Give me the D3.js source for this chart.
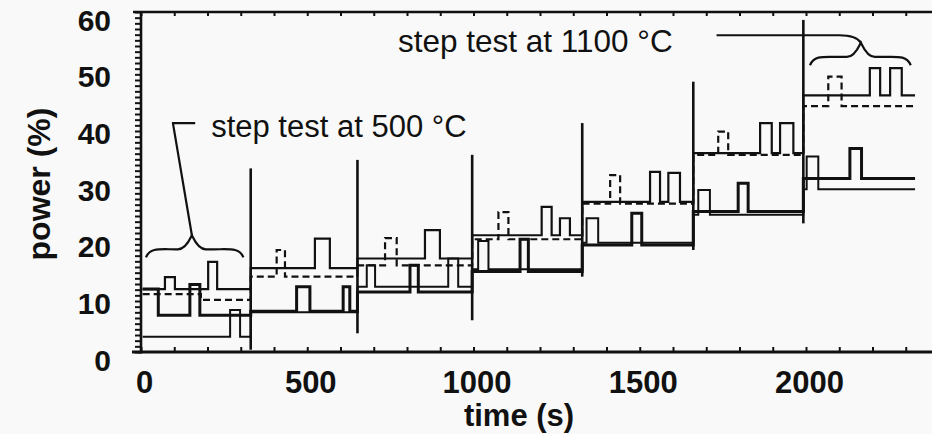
<!DOCTYPE html>
<html>
<head>
<meta charset="utf-8">
<script src="https://cdn.jsdelivr.net/npm/d3@7/dist/d3.min.js"></script>
<style>
  html, body { margin: 0; padding: 0; background: #f8f9f8; }
  svg { display: block; }
  text { font-family: "Liberation Sans", Arial, Helvetica, sans-serif; fill: #111; }
</style>
</head>
<body>
<svg id="chart" width="932" height="434"></svg>
<script>
// Heater power during the temperature ramp with step tests (time in s, power in %)
const upperSolid = [
  [5, 11.1], [72, 13.2], [102, 11.1], [202, 15.9], [229, 11.1],
  [330, 14.8], [523, 20.0], [568, 14.8],
  [651, 16.5], [854, 21.5], [899, 16.5],
  [996, 20.6], [1205, 25.6], [1235, 20.6], [1260, 23.6], [1290, 20.6],
  [1327, 26.5], [1531, 31.8], [1561, 26.5], [1586, 31.6], [1621, 26.5],
  [1661, 35.1], [1862, 40.4], [1897, 35.1], [1922, 40.4], [1962, 35.1],
  [1992, 45.3], [2192, 50.1], [2223, 45.3], [2253, 50.1], [2288, 45.3], [2328, 45.3]
];
const upperDashed = [
  [5, 10.2], [180, 9.2],
  [330, 13.3], [408, 18.0], [433, 13.3],
  [651, 15.3], [734, 20.1], [769, 15.3],
  [996, 19.9], [1075, 24.7], [1105, 19.9],
  [1327, 26.2], [1411, 31.2], [1441, 26.2],
  [1661, 34.8], [1736, 38.9], [1766, 34.8],
  [1992, 43.4], [2067, 48.6], [2107, 43.4], [2328, 43.4]
];
const lowerThick = [
  [5, 11.1], [52, 6.5], [147, 11.9], [177, 6.5],
  [330, 7.2], [468, 11.5], [508, 7.2], [608, 11.5], [628, 7.2],
  [651, 10.6], [809, 15.3], [834, 10.6],
  [996, 14.2], [1140, 19.9], [1165, 14.2],
  [1327, 18.9], [1476, 24.5], [1506, 18.9],
  [1661, 24.8], [1796, 29.8], [1826, 24.8],
  [1992, 30.6], [2132, 35.9], [2167, 30.6], [2328, 30.6]
];
const lowerThin = [
  [5, 2.7], [268, 7.4], [298, 2.7],
  [330, 7.0],
  [651, 11.5], [679, 15.3], [704, 11.5], [924, 16.5], [954, 11.5],
  [996, 14.6], [1014, 19.6], [1045, 14.6],
  [1327, 19.3], [1340, 23.6], [1375, 19.3],
  [1661, 24.2], [1676, 28.6], [1711, 24.2],
  [1992, 28.7], [2002, 34.5], [2037, 28.7], [2328, 28.7]
];

// Set-point changes and the transient spike they cause
const stepTimes  = [330, 651, 996, 1327, 1661, 1992];
const spikeTop   = [32.4, 33.9, 34.8, 40.4, 47.7, 58.6];
const spikeBottom = [0.4, 3.3, 5.6, 13.3, 18.0, 22.7];

const yTickValues = [0, 10, 20, 30, 40, 50, 60];
const xTickValues = [0, 500, 1000, 1500, 2000];

const svg = d3.select("#chart");
const x = d3.scaleLinear().domain([0, 2400]).range([141, 939]);
const y = d3.scaleLinear().domain([0, 60]).range([352, 12]);
const ink = "#111";

// frame
svg.append("line").attr("x1", 141).attr("x2", 141).attr("y1", 11).attr("y2", 353.5)
  .attr("stroke", ink).attr("stroke-width", 2.6);
svg.append("line").attr("x1", 133).attr("x2", 932).attr("y1", y(60)).attr("y2", y(60))
  .attr("stroke", ink).attr("stroke-width", 2.6);
svg.append("line").attr("x1", 132).attr("x2", 932).attr("y1", y(0)).attr("y2", y(0))
  .attr("stroke", ink).attr("stroke-width", 2.8);

// minor ticks
function cleanTicks(g, w) {
  g.select(".domain").remove();
  g.selectAll(".tick line").attr("stroke", ink).attr("stroke-width", w);
  g.selectAll(".tick text").remove();
}
svg.append("g").attr("transform", "translate(141,0)")
  .call(d3.axisLeft(y).tickValues(d3.range(0, 61, 1)).tickSize(6))
  .call(g => cleanTicks(g, 2));
svg.append("g").attr("transform", `translate(0,${y(0)})`)
  .call(d3.axisTop(x).tickValues(d3.range(0, 2301, 100)).tickSize(5))
  .call(g => cleanTicks(g, 2));
svg.append("g").attr("transform", `translate(0,${y(60)})`)
  .call(d3.axisBottom(x).tickValues(d3.range(0, 2301, 100)).tickSize(4))
  .call(g => cleanTicks(g, 2));

// tick labels
const yLab = svg.append("g").attr("transform", "translate(111,0)")
  .call(d3.axisLeft(y).tickValues(yTickValues).tickFormat(d3.format("d")).tickSize(0).tickPadding(0));
yLab.select(".domain").remove();
yLab.selectAll(".tick text").attr("dy", "0.6em").attr("dx", 0)
  .style("font-size", "30px").style("font-weight", "bold")
  .style("font-family", "'Liberation Sans', Arial, sans-serif").attr("fill", ink);

const xLab = svg.append("g").attr("transform", `translate(3,${y(0)})`)
  .call(d3.axisBottom(x).tickValues(xTickValues).tickFormat(d3.format("d")).tickSize(0).tickPadding(19));
xLab.select(".domain").remove();
xLab.selectAll(".tick text")
  .style("font-size", "31px").style("font-weight", "bold")
  .style("font-family", "'Liberation Sans', Arial, sans-serif").attr("fill", ink);

// axis titles
svg.append("text").attr("x", 519).attr("y", 426).attr("text-anchor", "middle")
  .style("font-size", "31px").style("font-weight", "bold").text("time (s)");
svg.append("text").attr("transform", "translate(50,184) rotate(-90)").attr("text-anchor", "middle")
  .style("font-size", "32px").style("font-weight", "bold").text("power (%)");

// traces
const line = d3.line().x(d => x(d[0])).y(d => y(d[1])).curve(d3.curveStepAfter);
const plot = svg.append("g").attr("fill", "none").attr("stroke", ink)
  .attr("stroke-linejoin", "miter");

plot.append("path").datum(lowerThin).attr("d", line).attr("stroke-width", 2);
plot.append("path").datum(lowerThick).attr("d", line).attr("stroke-width", 3);
plot.append("path").datum(upperDashed).attr("d", line).attr("stroke-width", 2.2)
  .attr("stroke-dasharray", "7,4");
plot.append("path").datum(upperSolid).attr("d", line).attr("stroke-width", 2.2);

plot.selectAll("line.spike").data(stepTimes).join("line").attr("class", "spike")
  .attr("x1", d => x(d)).attr("x2", d => x(d))
  .attr("y1", (d, i) => y(spikeTop[i])).attr("y2", (d, i) => y(spikeBottom[i]))
  .attr("stroke-width", 2.6);

// annotations
const ann = svg.append("g").attr("fill", "none").attr("stroke", ink).attr("stroke-width", 2.2);
function brace(t0, t1, tip, vBase, vTip) {
  const x0 = x(t0), x1 = x(t1), xt = x(tip), yb = y(vBase), yt = y(vTip);
  const ym = (yb + yt) / 2 + 3;
  return `M${x0},${yb} C${x0 + 4},${ym - 2} ${x0 + 14},${ym} ${x0 + 30},${ym}` +
    ` L${xt - 14},${ym} C${xt - 6},${ym} ${xt - 2},${yt + 4} ${xt},${yt}` +
    ` C${xt + 2},${yt + 4} ${xt + 6},${ym} ${xt + 14},${ym}` +
    ` L${x1 - 30},${ym} C${x1 - 14},${ym} ${x1 - 4},${ym - 2} ${x1},${yb}`;
}
ann.append("path").attr("d", brace(15, 308, 153, 16.7, 20.6));
ann.append("path").attr("d", `M${x(93)},${y(40.4)} L${x(163)},${y(40.4)} M${x(96)},${y(40.4)} L${x(153)},${y(20.6)}`);
ann.append("path").attr("d", brace(2012, 2315, 2165, 50.6, 54.6));
ann.append("path").attr("d",
  `M${x(1731)},${y(55.9)} L${x(2100)},${y(55.9)} C${x(2130)},${y(55.9)} ${x(2155)},${y(55.5)} ${x(2165)},${y(54.6)}`);

svg.append("text").attr("x", x(211)).attr("y", y(37.9))
  .style("font-size", "31px").text("step test at 500 °C");
svg.append("text").attr("x", x(773)).attr("y", y(52.9))
  .style("font-size", "31.5px").text("step test at 1100 °C");
</script>
</body>
</html>
